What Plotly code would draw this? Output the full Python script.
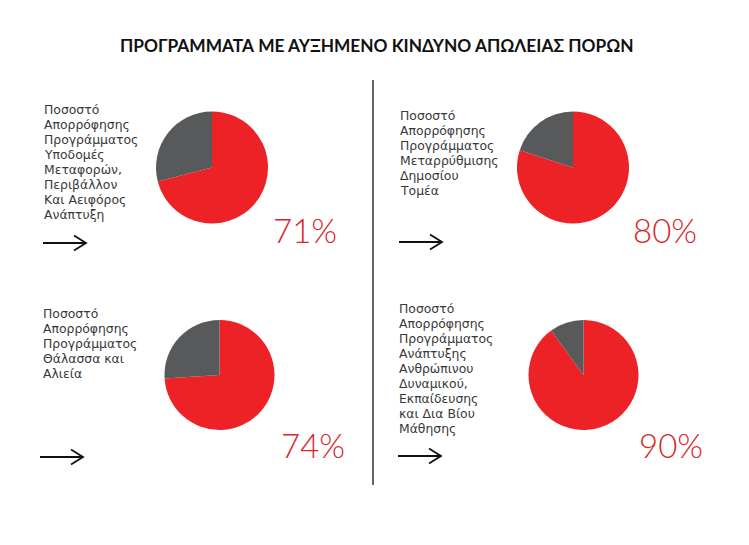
import plotly.graph_objects as go

# chart values
title = "ΠΡΟΓΡΑΜΜΑΤΑ ΜΕ ΑΥΞΗΜΕΝΟ ΚΙΝΔΥΝΟ ΑΠΩΛΕΙΑΣ ΠΟΡΩΝ"
programme_labels = [
    ["Ποσοστό", "Απορρόφησης", "Προγράμματος", "Υποδομές", "Μεταφορών,",
     "Περιβάλλον", "Και Αειφόρος", "Ανάπτυξη"],
    ["Ποσοστό", "Απορρόφησης", "Προγράμματος", "Μεταρρύθμισης", "Δημοσίου", "Τομέα"],
    ["Ποσοστό", "Απορρόφησης", "Προγράμματος", "Θάλασσα και", "Αλιεία"],
    ["Ποσοστό", "Απορρόφησης", "Προγράμματος", "Ανάπτυξης", "Ανθρώπινου",
     "Δυναμικού,", "Εκπαίδευσης", "και Δια Βίου", "Μάθησης"],
]
absorption = [71, 80, 74, 90]

W, H = 749, 545
OFF = 8  # page body margin: the figure starts 8px in from the window corner
RED = "#ec2227"
GREY = "#58595b"
TEXT = "#383838"

# layout of the four panels (pixel positions in the window)
pie_centers = [(212, 167.5), (573, 167.5), (219.5, 375), (583.5, 375)]
pie_radius = [56, 56, 55, 55]
label_pos = [(42, 109), (398, 115), (41, 313), (397, 308)]  # first line centre
line_step = 15
pct_pos = [(305, 230), (665, 230), (313, 445), (671, 445)]
arrow_pos = [(43, 243), (399, 242), (40, 457), (398, 456)]

FW, FH = W - OFF, H - OFF

fig = go.Figure()

for i, val in enumerate(absorption):
    cx, cy = pie_centers[i]
    r = pie_radius[i]
    fig.add_trace(
        go.Pie(
            values=[val, 100 - val],
            labels=["Απορρόφηση", "Υπόλοιπο"],
            marker=dict(colors=[RED, GREY], line=dict(width=0)),
            sort=False,
            direction="clockwise",
            rotation=0,
            textinfo="none",
            hoverinfo="label+percent",
            showlegend=False,
            domain=dict(
                x=[(cx - r - OFF) / FW, (cx + r - OFF) / FW],
                y=[1 - (cy + r - OFF) / FH, 1 - (cy - r - OFF) / FH],
            ),
        )
    )

annotations = [
    dict(
        text="<b>" + title + "</b>",
        x=377, y=45, xref="x", yref="y",
        showarrow=False,
        font=dict(family="Lato, Roboto, sans-serif", size=17.3, color="#111111"),
    )
]

for i, val in enumerate(absorption):
    lx, ly = label_pos[i]
    for k, line in enumerate(programme_labels[i]):
        annotations.append(
            dict(
                text=line,
                x=lx, y=ly + k * line_step, xref="x", yref="y",
                xanchor="left", yanchor="middle", align="left",
                showarrow=False,
                font=dict(family="'DejaVu Sans', sans-serif", size=12.4, color=TEXT),
            )
        )
    px_, py_ = pct_pos[i]
    annotations.append(
        dict(
            text=f"{val}%",
            x=px_, y=py_, xref="x", yref="y",
            showarrow=False,
            font=dict(family="Lato, 'Open Sans', sans-serif", size=33, color="#d8262c", weight=300),
        )
    )

shapes = [
    dict(type="line", x0=373, x1=373, y0=80, y1=485, xref="x", yref="y",
         line=dict(color="#666666", width=2))
]
for ax, ay in arrow_pos:
    shapes.append(
        dict(
            type="path",
            path=f"M {ax} {ay} L {ax + 43} {ay} M {ax + 31} {ay - 7.5} L {ax + 43} {ay} L {ax + 31} {ay + 7.5}",
            xref="x", yref="y",
            line=dict(color="#111111", width=1.8),
        )
    )

fig.update_layout(
    width=FW,
    height=FH,
    margin=dict(l=0, r=0, t=0, b=0),
    paper_bgcolor="white",
    plot_bgcolor="white",
    xaxis=dict(range=[OFF, W], visible=False, fixedrange=True),
    yaxis=dict(range=[H, OFF], visible=False, fixedrange=True),
    annotations=annotations,
    shapes=shapes,
)

fig.write_html("out.html")
